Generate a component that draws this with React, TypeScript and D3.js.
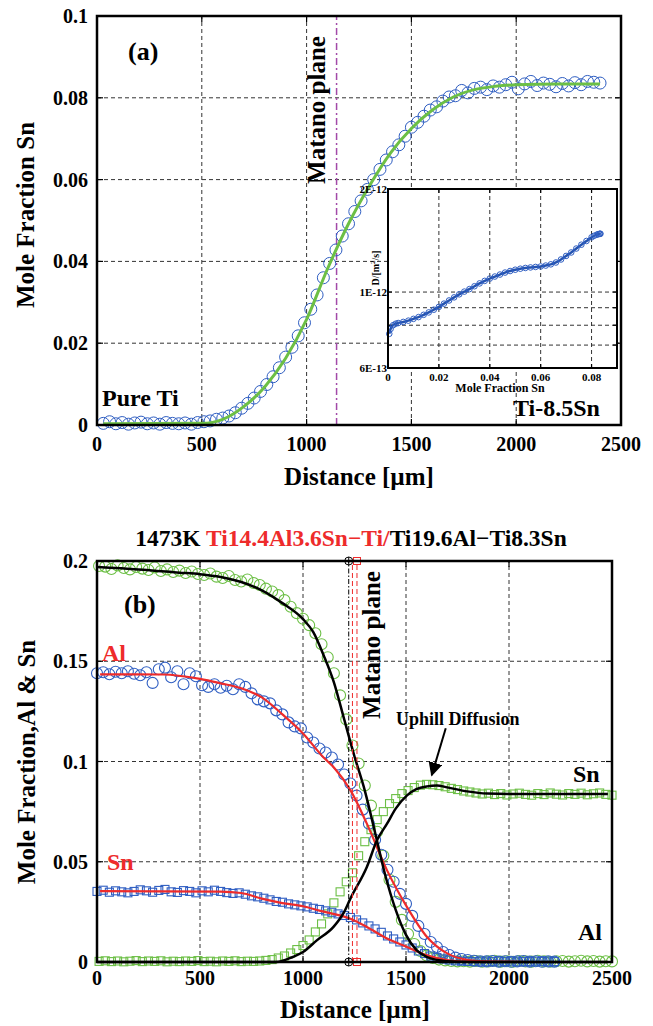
import React, { useEffect, useRef } from 'react';
import * as d3 from 'd3';

const W = 653;
const H = 1026;
const FONT = '"Liberation Serif", "Times New Roman", Times, serif';
const BLUE = '#2f5ec2';
const DARKBLUE = '#2453b0';
const GREEN = '#6cbf45';
const RED = '#ee2b2b';
const PURPLE = '#a24aa8';

// ---- (a) Ti / Ti-8.5Sn couple ----
const distA = [
  30, 60, 90, 120, 150, 180, 210, 240, 270, 300,
  330, 360, 390, 420, 450, 480, 510, 540, 570, 600,
  630, 660, 690, 720, 750, 780, 810, 840, 870, 900,
  930, 960, 990, 1020, 1050, 1080, 1110, 1140, 1170, 1200,
  1230, 1260, 1290, 1320, 1350, 1380, 1410, 1440, 1470, 1500,
  1530, 1560, 1590, 1620, 1650, 1680, 1710, 1740, 1770, 1800,
  1830, 1860, 1890, 1920, 1950, 1980, 2010, 2040, 2070, 2100,
  2130, 2160, 2190, 2220, 2250, 2280, 2310, 2340, 2370, 2400,
];
const snA = [
  0.0004, 0.0008, 0.0003, 0.0006, 0.0002, 0.0005, 0.0007, 0.0003, 0.0005, 0.0002,
  0.0006, 0.0004, 0.0003, 0.0005, 0.0002, 0.0006, 0.0008, 0.0010, 0.0014, 0.0017,
  0.0022, 0.0030, 0.0041, 0.0053, 0.0066, 0.0082, 0.0099, 0.0118, 0.0140, 0.0166,
  0.0190, 0.0218, 0.0250, 0.0283, 0.0318, 0.0360, 0.0395, 0.0428, 0.0462, 0.0492,
  0.0522, 0.0548, 0.0576, 0.0600, 0.0625, 0.0648, 0.0668, 0.0685, 0.0706, 0.0728,
  0.0740, 0.0755, 0.0770, 0.0778, 0.0792, 0.0802, 0.0805, 0.0818, 0.0812, 0.0823,
  0.0826, 0.0820, 0.0829, 0.0826, 0.0832, 0.0838, 0.0822, 0.0834, 0.0840, 0.0830,
  0.0836, 0.0833, 0.0827, 0.0835, 0.0829, 0.0837, 0.0832, 0.0840, 0.0838, 0.0836,
];
const fitDistA = [30, 500, 600, 700, 800, 900, 1000, 1100, 1200, 1300, 1400, 1500, 1600, 1700, 1800, 1900, 2000, 2200, 2400];
const fitSnA = [0.0003, 0.0004, 0.0014, 0.0045, 0.0093, 0.0163, 0.0258, 0.0382, 0.0492, 0.0585, 0.0665, 0.0725, 0.0770, 0.0802, 0.0820, 0.0828, 0.0832, 0.0834, 0.0834];
const matanoA = 1143;

const distTicks = [0, 500, 1000, 1500, 2000, 2500];
const ticksA = [0, 0.02, 0.04, 0.06, 0.08, 0.1];

// ---- inset: interdiffusion coefficient vs mole fraction ----
const insetSn = [
  0.0005, 0.001, 0.002, 0.003, 0.004, 0.006, 0.008, 0.010, 0.012, 0.014,
  0.016, 0.018, 0.020, 0.022, 0.024, 0.026, 0.028, 0.030, 0.032, 0.034,
  0.036, 0.038, 0.040, 0.042, 0.044, 0.046, 0.048, 0.050, 0.052, 0.054,
  0.056, 0.058, 0.060, 0.062, 0.064, 0.066, 0.068, 0.070, 0.072, 0.074,
  0.076, 0.078, 0.080, 0.081, 0.082, 0.0825, 0.083, 0.0833, 0.0835,
];
const insetD = [
  7.55e-13, 7.8e-13, 8.0e-13, 8.08e-13, 8.12e-13, 8.18e-13, 8.25e-13, 8.35e-13, 8.45e-13, 8.58e-13,
  8.72e-13, 8.88e-13, 9.05e-13, 9.25e-13, 9.45e-13, 9.65e-13, 9.85e-13, 1.003e-12, 1.02e-12, 1.04e-12,
  1.06e-12, 1.078e-12, 1.095e-12, 1.11e-12, 1.125e-12, 1.14e-12, 1.152e-12, 1.162e-12, 1.17e-12, 1.176e-12,
  1.18e-12, 1.184e-12, 1.188e-12, 1.195e-12, 1.205e-12, 1.22e-12, 1.245e-12, 1.275e-12, 1.305e-12, 1.34e-12,
  1.375e-12, 1.41e-12, 1.445e-12, 1.46e-12, 1.47e-12, 1.475e-12, 1.478e-12, 1.48e-12, 1.48e-12,
];
const insetXTicks = [0, 0.02, 0.04, 0.06, 0.08];
const insetYGrid = [7e-13, 8e-13, 9e-13, 1e-12];
const insetYTicks = [2e-12, 1e-12, 6e-13];
const insetYLabels = ['2E-12', '1E-12', '6E-13'];

// ---- (b) Ti14.4Al3.6Sn-Ti (blue/red) and Ti19.6Al-Ti8.3Sn (green/black) ----
const distB1 = [
  0, 30, 60, 90, 120, 150, 180, 210, 240, 270,
  300, 330, 360, 390, 420, 450, 480, 510, 540, 570,
  600, 630, 660, 690, 720, 750, 780, 810, 840, 870,
  900, 930, 960, 990, 1020, 1050, 1080, 1110, 1140, 1170,
  1200, 1230, 1260, 1290, 1320, 1350, 1380, 1410, 1440, 1470,
  1500, 1530, 1560, 1590, 1620, 1650, 1680, 1710, 1740, 1770,
  1800, 1830, 1860, 1890, 1920, 1950, 1980, 2010, 2040, 2070,
  2100, 2130, 2160, 2190, 2220,
];
const alB1 = [
  0.1440, 0.1445, 0.1435, 0.1448, 0.1440, 0.1450, 0.1438, 0.1430, 0.1445, 0.1392,
  0.1460, 0.1468, 0.1420, 0.1450, 0.1385, 0.1440, 0.1425, 0.1380, 0.1372, 0.1385,
  0.1368, 0.1378, 0.1360, 0.1385, 0.1372, 0.1340, 0.1310, 0.1300, 0.1290, 0.1255,
  0.1235, 0.1195, 0.1175, 0.1165, 0.1120, 0.1095, 0.1065, 0.1045, 0.1020, 0.0985,
  0.0935, 0.0890, 0.0830, 0.0760, 0.0690, 0.0610, 0.0535, 0.0460, 0.0400, 0.0340,
  0.0290, 0.0230, 0.0180, 0.0140, 0.0100, 0.0075, 0.0050, 0.0035, 0.0022, 0.0015,
  0.0010, 0.0006, 0.0004, 0.0003, 0.0005, 0.0002, 0.0004, 0.0001, 0.0003, 0.0005,
  0.0002, 0.0004, 0.0001, 0.0003, 0.0002,
];
const snB1 = [
  0.0352, 0.0358, 0.0348, 0.0355, 0.0350, 0.0345, 0.0352, 0.0360, 0.0355, 0.0348,
  0.0357, 0.0362, 0.0350, 0.0347, 0.0356, 0.0352, 0.0345, 0.0355, 0.0350, 0.0358,
  0.0352, 0.0346, 0.0342, 0.0345, 0.0338, 0.0330, 0.0325, 0.0318, 0.0310, 0.0302,
  0.0298, 0.0290, 0.0285, 0.0280, 0.0275, 0.0268, 0.0262, 0.0255, 0.0248, 0.0240,
  0.0232, 0.0222, 0.0210, 0.0195, 0.0180, 0.0165, 0.0148, 0.0130, 0.0115, 0.0100,
  0.0085, 0.0070, 0.0055, 0.0042, 0.0030, 0.0022, 0.0015, 0.0010, 0.0006, 0.0004,
  0.0003, 0.0002, 0.0004, 0.0001, 0.0003, 0.0005, 0.0002, 0.0004, 0.0001, 0.0003,
  0.0002, 0.0004, 0.0003, 0.0001, 0.0002,
];
const distB2 = [
  10, 40, 70, 100, 130, 160, 190, 220, 250, 280,
  310, 340, 370, 400, 430, 460, 490, 520, 550, 580,
  610, 640, 670, 700, 730, 760, 790, 820, 850, 880,
  910, 940, 970, 1000, 1030, 1060, 1090, 1120, 1150, 1180,
  1210, 1240, 1270, 1300, 1330, 1360, 1390, 1420, 1450, 1480,
  1510, 1540, 1570, 1600, 1630, 1660, 1690, 1720, 1750, 1780,
  1810, 1840, 1870, 1900, 1930, 1960, 1990, 2020, 2050, 2080,
  2110, 2140, 2170, 2200, 2230, 2260, 2290, 2320, 2350, 2380,
  2410, 2440, 2470, 2500,
];
const alB2 = [
  0.1975, 0.1972, 0.1960, 0.1978, 0.1965, 0.1958, 0.1970, 0.1962, 0.1955, 0.1968,
  0.1950, 0.1958, 0.1945, 0.1952, 0.1940, 0.1948, 0.1935, 0.1930, 0.1938, 0.1922,
  0.1915, 0.1925, 0.1905, 0.1898, 0.1908, 0.1890, 0.1880, 0.1862, 0.1848, 0.1830,
  0.1805, 0.1772, 0.1740, 0.1712, 0.1680, 0.1640, 0.1585, 0.1520, 0.1440, 0.1330,
  0.1210, 0.1080, 0.0990, 0.0880, 0.0780, 0.0650, 0.0530, 0.0410, 0.0300, 0.0210,
  0.0140, 0.0090, 0.0055, 0.0032, 0.0020, 0.0012, 0.0008, 0.0005, 0.0003, 0.0004,
  0.0002, 0.0005, 0.0001, 0.0003, 0.0006, 0.0002, 0.0004, 0.0001, 0.0005, 0.0003,
  0.0002, 0.0006, 0.0003, 0.0001, 0.0004, 0.0005, 0.0002, 0.0004, 0.0006, 0.0003,
  0.0005, 0.0002, 0.0004, 0.0003,
];
const snB2 = [
  0.0003, 0.0006, 0.0002, 0.0005, 0.0001, 0.0004, 0.0007, 0.0002, 0.0005, 0.0003,
  0.0006, 0.0001, 0.0004, 0.0002, 0.0005, 0.0003, 0.0007, 0.0002, 0.0004, 0.0001,
  0.0005, 0.0003, 0.0006, 0.0002, 0.0004, 0.0003, 0.0005, 0.0008, 0.0012, 0.0020,
  0.0030, 0.0045, 0.0062, 0.0082, 0.0110, 0.0150, 0.0190, 0.0240, 0.0295, 0.0350,
  0.0400, 0.0445, 0.0530, 0.0600, 0.0660, 0.0710, 0.0750, 0.0790, 0.0815, 0.0840,
  0.0855, 0.0870, 0.0882, 0.0886, 0.0884, 0.0880, 0.0874, 0.0866, 0.0860, 0.0853,
  0.0848, 0.0843, 0.0838, 0.0842, 0.0835, 0.0840, 0.0833, 0.0838, 0.0842, 0.0836,
  0.0832, 0.0840, 0.0835, 0.0843, 0.0837, 0.0833, 0.0840, 0.0836, 0.0842, 0.0834,
  0.0839, 0.0843, 0.0836, 0.0832,
];
// fitted profiles
const fitAl1 = [[15, 0.1435], [320, 0.1434], [500, 0.1412], [600, 0.139], [700, 0.1365], [800, 0.132], [900, 0.1235], [1000, 0.114], [1100, 0.102], [1150, 0.097], [1230, 0.0857], [1310, 0.069], [1408, 0.0457], [1505, 0.0274], [1602, 0.0125], [1700, 0.0043], [1800, 0.001], [1900, 0.0002], [2090, 0]];
const fitSn1 = [[15, 0.0353], [600, 0.0351], [700, 0.0344], [800, 0.0316], [900, 0.0294], [1000, 0.0278], [1080, 0.0256], [1230, 0.0216], [1310, 0.0175], [1408, 0.0117], [1505, 0.0075], [1602, 0.0033], [1700, 0.001], [1800, 0.0002], [2090, 0]];
const fitAl2 = [[0, 0.197], [200, 0.1958], [400, 0.1942], [500, 0.1934], [600, 0.192], [700, 0.1895], [800, 0.1854], [900, 0.179], [1000, 0.171], [1050, 0.1645], [1100, 0.153], [1150, 0.1395], [1200, 0.121], [1250, 0.1025], [1300, 0.0855], [1350, 0.0645], [1400, 0.043], [1450, 0.026], [1500, 0.0135], [1550, 0.006], [1600, 0.0025], [1650, 0.001], [1700, 0.0004], [1800, 0], [2480, 0]];
const fitSn2 = [[0, 0], [870, 0], [950, 0.0025], [1000, 0.005], [1067, 0.0108], [1148, 0.0175], [1200, 0.025], [1230, 0.0316], [1310, 0.0474], [1359, 0.0607], [1408, 0.069], [1450, 0.0765], [1505, 0.0831], [1550, 0.0862], [1602, 0.0876], [1650, 0.088], [1700, 0.0871], [1797, 0.0851], [1894, 0.084], [2000, 0.0838], [2480, 0.0838]];
const ticksB = [0, 0.05, 0.1, 0.15, 0.2];
const matanoB = [1222, 1240, 1262];

function txt(g, x, y, s, size, opts = {}) {
  const t = g.append('text')
    .attr('x', x).attr('y', y)
    .attr('font-family', FONT)
    .attr('font-weight', 'bold')
    .attr('font-size', size)
    .attr('fill', opts.fill || '#000')
    .attr('text-anchor', opts.anchor || 'start')
    .text(s);
  if (opts.baseline) t.attr('dominant-baseline', opts.baseline);
  if (opts.rotate) t.attr('transform', `rotate(-90,${x},${y})`);
  return t;
}

function gridAndTicks(g, x, y, xs, ys, tickLen = 6) {
  const [xa, xb] = x.range();
  const [ya, yb] = y.range();
  const inX = xs.filter(v => x(v) > xa + 1 && x(v) < xb - 1);
  const inY = ys.filter(v => y(v) < ya - 1 && y(v) > yb + 1);
  inX.forEach(v => {
    g.append('line').attr('x1', x(v)).attr('x2', x(v)).attr('y1', ya).attr('y2', yb)
      .attr('stroke', '#333').attr('stroke-width', 1).attr('stroke-dasharray', '4,3');
  });
  inY.forEach(v => {
    g.append('line').attr('x1', xa).attr('x2', xb).attr('y1', y(v)).attr('y2', y(v))
      .attr('stroke', '#333').attr('stroke-width', 1).attr('stroke-dasharray', '4,3');
  });
  inX.forEach(v => {
    g.append('line').attr('x1', x(v)).attr('x2', x(v)).attr('y1', ya).attr('y2', ya - tickLen).attr('stroke', '#000').attr('stroke-width', 1.2);
    g.append('line').attr('x1', x(v)).attr('x2', x(v)).attr('y1', yb).attr('y2', yb + tickLen).attr('stroke', '#000').attr('stroke-width', 1.2);
  });
  inY.forEach(v => {
    g.append('line').attr('x1', xa).attr('x2', xa + tickLen).attr('y1', y(v)).attr('y2', y(v)).attr('stroke', '#000').attr('stroke-width', 1.2);
    g.append('line').attr('x1', xb).attr('x2', xb - tickLen).attr('y1', y(v)).attr('y2', y(v)).attr('stroke', '#000').attr('stroke-width', 1.2);
  });
}

function box(g, x, y, sw) {
  const [xa, xb] = x.range();
  const [ya, yb] = y.range();
  g.append('rect').attr('x', xa).attr('y', yb).attr('width', xb - xa).attr('height', ya - yb)
    .attr('fill', 'none').attr('stroke', '#000').attr('stroke-width', sw);
}

function circles(g, xs, ys, x, y, r, color, sw = 1.1) {
  g.append('g').selectAll('circle').data(xs).join('circle')
    .attr('cx', d => x(d)).attr('cy', (d, i) => y(ys[i])).attr('r', r)
    .attr('fill', 'none').attr('stroke', color).attr('stroke-width', sw);
}

function squares(g, xs, ys, x, y, s, color) {
  g.append('g').selectAll('rect').data(xs).join('rect')
    .attr('x', d => x(d) - s / 2).attr('y', (d, i) => y(ys[i]) - s / 2)
    .attr('width', s).attr('height', s)
    .attr('fill', 'none').attr('stroke', color).attr('stroke-width', 1.1);
}

function curve(g, pts, x, y, color, sw) {
  const line = d3.line().x(d => x(d[0])).y(d => y(d[1])).curve(d3.curveMonotoneX);
  g.append('path').attr('d', line(pts)).attr('fill', 'none').attr('stroke', color).attr('stroke-width', sw);
}

function fmt(v) {
  return String(+v.toFixed(3));
}

function draw(svg) {
  svg.append('rect').attr('width', W).attr('height', H).attr('fill', '#fff');

  // ===== panel (a) =====
  const gA = svg.append('g');
  const xA = d3.scaleLinear().domain([0, 2500]).range([97, 621]);
  const yA = d3.scaleLinear().domain([0, 0.1]).range([425, 16]);
  gridAndTicks(gA, xA, yA, distTicks, ticksA);
  gA.append('line').attr('x1', xA(matanoA)).attr('x2', xA(matanoA)).attr('y1', yA(0)).attr('y2', yA(0.1))
    .attr('stroke', PURPLE).attr('stroke-width', 1.5).attr('stroke-dasharray', '7,3,2,3');
  circles(gA, distA, snA, xA, yA, 6, BLUE, 1);
  curve(gA, fitDistA.map((d, i) => [d, fitSnA[i]]), xA, yA, GREEN, 3);

  // inset
  const xI = d3.scaleLinear().domain([0, 0.09]).range([388, 617]);
  const yI = d3.scaleLog().domain([6e-13, 2e-12]).range([368, 189]);
  gA.append('rect').attr('x', 388).attr('y', 189).attr('width', 229).attr('height', 179).attr('fill', '#fff');
  gridAndTicks(gA, xI, yI, insetXTicks, insetYGrid, 4);
  curve(gA, insetSn.map((d, i) => [d, insetD[i]]), xI, yI, DARKBLUE, 2.5);
  circles(gA, insetSn, insetD, xI, yI, 2.8, BLUE, 1);
  box(gA, xI, yI, 2);
  insetXTicks.forEach(v => txt(gA, xI(v), 381, fmt(v), 11, { anchor: 'middle' }));
  insetYTicks.forEach((v, i) => txt(gA, 387, yI(v), insetYLabels[i], 11, { anchor: 'end', baseline: 'central' }));
  txt(gA, 500, 392, 'Mole Fraction Sn', 12, { anchor: 'middle' });
  const dl = txt(gA, 379, 268, 'D/[m', 10, { anchor: 'middle', rotate: true });
  dl.append('tspan').attr('font-size', 7).attr('dy', -4).text('2');
  dl.append('tspan').attr('dy', 4).text('/s]');
  txt(gA, 513, 416, 'Ti-8.5Sn', 24);

  box(gA, xA, yA, 2.5);
  distTicks.forEach(v => txt(gA, xA(v), 451, String(v), 20, { anchor: 'middle' }));
  ticksA.forEach(v => txt(gA, 88, yA(v), fmt(v), 20, { anchor: 'end', baseline: 'central' }));
  txt(gA, 359, 485, 'Distance [µm]', 25, { anchor: 'middle' });
  txt(gA, 34, 215, 'Mole Fraction Sn', 25, { anchor: 'middle', rotate: true });
  txt(gA, 128, 60, '(a)', 26);
  txt(gA, 102, 406, 'Pure Ti', 24);
  txt(gA, 325, 110, 'Matano plane', 25, { anchor: 'middle', rotate: true });

  // ===== panel (b) =====
  const gB = svg.append('g');
  const xB = d3.scaleLinear().domain([0, 2500]).range([97, 612]);
  const yB = d3.scaleLinear().domain([0, 0.2]).range([962, 561]);
  gridAndTicks(gB, xB, yB, distTicks, ticksB);
  circles(gB, distB2, alB2, xB, yB, 5.5, GREEN);
  squares(gB, distB2, snB2, xB, yB, 8, GREEN);
  circles(gB, distB1, alB1, xB, yB, 5.5, BLUE);
  squares(gB, distB1, snB1, xB, yB, 8, BLUE);
  curve(gB, fitAl1, xB, yB, RED, 2.2);
  curve(gB, fitSn1, xB, yB, RED, 2.2);
  curve(gB, fitAl2, xB, yB, '#000', 2.5);
  curve(gB, fitSn2, xB, yB, '#000', 2.5);

  // Matano planes of both couples
  gB.append('line').attr('x1', xB(matanoB[0])).attr('x2', xB(matanoB[0])).attr('y1', yB(0)).attr('y2', yB(0.2))
    .attr('stroke', '#000').attr('stroke-width', 1).attr('stroke-dasharray', '5,2,1.5,2');
  gB.append('line').attr('x1', xB(matanoB[1])).attr('x2', xB(matanoB[1])).attr('y1', yB(0)).attr('y2', yB(0.2))
    .attr('stroke', RED).attr('stroke-width', 1).attr('stroke-dasharray', '5,3');
  gB.append('line').attr('x1', xB(matanoB[2])).attr('x2', xB(matanoB[2])).attr('y1', yB(0)).attr('y2', yB(0.2))
    .attr('stroke', RED).attr('stroke-width', 1).attr('stroke-dasharray', '5,3');
  [0, 0.2].forEach(v => {
    const cx = xB(matanoB[0]);
    gB.append('circle').attr('cx', cx).attr('cy', yB(v)).attr('r', 4).attr('fill', 'none').attr('stroke', '#000').attr('stroke-width', 1);
    gB.append('line').attr('x1', cx - 4).attr('x2', cx + 4).attr('y1', yB(v)).attr('y2', yB(v)).attr('stroke', '#000').attr('stroke-width', 1);
    gB.append('line').attr('x1', cx).attr('x2', cx).attr('y1', yB(v) - 4).attr('y2', yB(v) + 4).attr('stroke', '#000').attr('stroke-width', 1);
    gB.append('rect').attr('x', xB(matanoB[2]) - 3.5).attr('y', yB(v) - 3.5).attr('width', 7).attr('height', 7)
      .attr('fill', 'none').attr('stroke', RED).attr('stroke-width', 1);
  });

  box(gB, xB, yB, 2.5);
  distTicks.forEach(v => txt(gB, xB(v), 985, String(v), 20, { anchor: 'middle' }));
  ticksB.forEach(v => txt(gB, 88, yB(v), fmt(v), 20, { anchor: 'end', baseline: 'central' }));
  txt(gB, 355, 1018, 'Distance [µm]', 25, { anchor: 'middle' });
  txt(gB, 35, 762, 'Mole Fraction,Al & Sn', 25, { anchor: 'middle', rotate: true });

  const title = txt(gB, 351, 546, '1473K ', 23.5, { anchor: 'middle' });
  title.append('tspan').attr('fill', RED).text('Ti14.4Al3.6Sn\u2212Ti/');
  title.append('tspan').text('Ti19.6Al\u2212Ti8.3Sn');

  txt(gB, 124, 613, '(b)', 26);
  txt(gB, 102, 661, 'Al', 24, { fill: RED });
  txt(gB, 107, 870, 'Sn', 24, { fill: RED });
  txt(gB, 573, 782, 'Sn', 24);
  txt(gB, 578, 940, 'Al', 24);
  txt(gB, 380, 645, 'Matano plane', 25, { anchor: 'middle', rotate: true });
  txt(gB, 396, 725, 'Uphill Diffusion', 18);

  svg.append('defs').append('marker')
    .attr('id', 'arrow').attr('viewBox', '0 0 10 10').attr('refX', 9).attr('refY', 5)
    .attr('markerWidth', 7).attr('markerHeight', 7).attr('orient', 'auto')
    .append('path').attr('d', 'M0,0 L10,5 L0,10 z').attr('fill', '#000');
  gB.append('line')
    .attr('x1', xB(1693)).attr('y1', yB(0.1166))
    .attr('x2', xB(1625)).attr('y2', yB(0.0932))
    .attr('stroke', '#000').attr('stroke-width', 2).attr('marker-end', 'url(#arrow)');
}

export default function App() {
  const svgRef = useRef(null);

  useEffect(() => {
    const svg = d3.select(svgRef.current);
    svg.selectAll('*').remove();
    draw(svg);
  }, []);

  return (
    <div>
      <style>{'body { margin: 0; }'}</style>
      <svg ref={svgRef} width={W} height={H} style={{ display: 'block' }} />
    </div>
  );
}
